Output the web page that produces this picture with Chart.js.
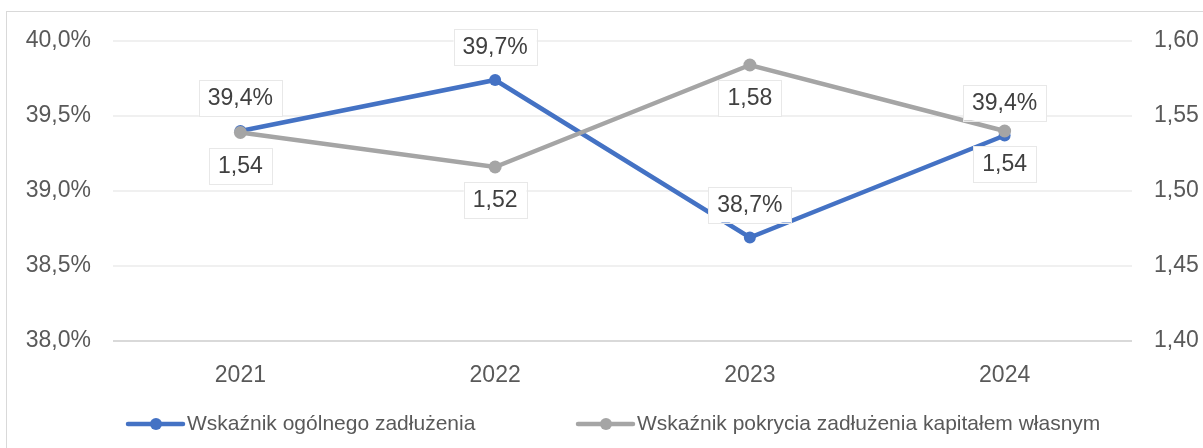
<!DOCTYPE html>
<html>
<head>
<meta charset="utf-8">
<script src="https://cdn.jsdelivr.net/npm/chart.js@4"></script>
<style>
  body { margin: 0; background: #fff; }
  #wrap { position: relative; width: 1203px; height: 448px; overflow: hidden; }
  #frame { position: absolute; left: 6px; top: 11px; width: 1210px; height: 460px; border: 1px solid #d9d9d9; box-sizing: border-box; }
  canvas { position: absolute; left: 0; top: 0; }
</style>
</head>
<body>
<div id="wrap">
  <div id="frame"></div>
  <canvas id="chart" width="1203" height="448"></canvas>
</div>
<script>
// data
const years = ['2021', '2022', '2023', '2024'];
const debtRatio = [39.40, 39.74, 38.69, 39.37];
const equityCover = [1.539, 1.516, 1.584, 1.540];
const seriesNames = ['Wskaźnik ogólnego zadłużenia', 'Wskaźnik pokrycia zadłużenia kapitałem własnym'];

const BLUE = '#4472C4';
const GREY = '#A5A5A5';
const FONT = '"Liberation Sans", Arial, sans-serif';
const FS = 23;

const pctFmt = v => v.toFixed(1).replace('.', ',') + '%';
const numFmt = v => v.toFixed(2).replace('.', ',');

// data labels in boxes: blue above, grey below
const labelsPlugin = {
    id: 'boxLabels',
    afterDatasetsDraw(chart) {
        const ctx = chart.ctx;
        ctx.save();
        ctx.font = FS + 'px ' + FONT;
        ctx.textAlign = 'center';
        ctx.textBaseline = 'middle';
        chart.data.datasets.forEach((ds, i) => {
            const meta = chart.getDatasetMeta(i);
            meta.data.forEach((pt, j) => {
                const txt = ds.fmt(ds.data[j]);
                const w = ctx.measureText(txt).width + 18;
                const h = 36;
                const top = ds.above ? pt.y - 15 - h : pt.y + 15;
                const left = pt.x - w / 2;
                ctx.fillStyle = '#fff';
                ctx.fillRect(left, top, w, h);
                ctx.strokeStyle = '#e8e8e8';
                ctx.lineWidth = 1;
                ctx.strokeRect(Math.round(left) + 0.5, Math.round(top) + 0.5, Math.round(w), h);
                ctx.fillStyle = '#404040';
                ctx.fillText(txt, pt.x, top + h / 2 + 1);
            });
        });
        ctx.restore();
    }
};

// legend at the bottom (line + dot marker)
const legendPlugin = {
    id: 'bottomLegend',
    afterDraw(chart) {
        const ctx = chart.ctx;
        const y = 424;
        const items = [
            { x: 128, color: BLUE, name: seriesNames[0] },
            { x: 578, color: GREY, name: seriesNames[1] }
        ];
        ctx.save();
        ctx.font = '21px ' + FONT;
        ctx.textBaseline = 'middle';
        items.forEach(it => {
            ctx.strokeStyle = it.color;
            ctx.lineWidth = 4.5;
            ctx.lineCap = 'round';
            ctx.beginPath();
            ctx.moveTo(it.x, y);
            ctx.lineTo(it.x + 55, y);
            ctx.stroke();
            ctx.fillStyle = it.color;
            ctx.beginPath();
            ctx.arc(it.x + 28, y, 6, 0, Math.PI * 2);
            ctx.fill();
            ctx.fillStyle = '#595959';
            ctx.fillText(it.name, it.x + 59, y);
        });
        ctx.restore();
    }
};

new Chart(document.getElementById('chart'), {
    type: 'line',
    data: {
        labels: years,
        datasets: [
            {
                label: seriesNames[0],
                data: debtRatio,
                yAxisID: 'y',
                borderColor: BLUE,
                backgroundColor: BLUE,
                borderWidth: 4.5,
                pointRadius: 6,
                pointBorderWidth: 0,
                tension: 0,
                order: 1,
                above: true,
                fmt: pctFmt
            },
            {
                label: seriesNames[1],
                data: equityCover,
                yAxisID: 'y1',
                borderColor: GREY,
                backgroundColor: GREY,
                borderWidth: 4.5,
                pointRadius: 6.5,
                pointBorderWidth: 0,
                tension: 0,
                order: 0,
                above: false,
                fmt: numFmt
            }
        ]
    },
    options: {
        responsive: false,
        animation: false,
        layout: { padding: { top: 41, left: 0, right: 0, bottom: 0 } },
        plugins: {
            legend: { display: false },
            tooltip: { enabled: false }
        },
        scales: {
            x: {
                offset: true,
                grid: { display: false },
                border: { display: false },
                ticks: { color: '#595959', font: { family: FONT, size: FS }, padding: 13 },
                afterFit(s) { s.height = 107; }
            },
            y: {
                position: 'left',
                min: 38, max: 40,
                ticks: {
                    stepSize: 0.5,
                    color: '#595959',
                    font: { family: FONT, size: FS },
                    padding: 22,
                    callback: v => pctFmt(v)
                },
                grid: {
                    drawTicks: false,
                    color: ctx => ctx.index === 0 ? '#d9d9d9' : '#f0f0f0',
                    lineWidth: 2
                },
                border: { display: false },
                afterFit(s) { s.width = 113; }
            },
            y1: {
                position: 'right',
                min: 1.4, max: 1.6,
                ticks: {
                    stepSize: 0.05,
                    color: '#595959',
                    font: { family: FONT, size: FS },
                    padding: 22,
                    callback: v => numFmt(v)
                },
                grid: { display: false, drawTicks: false },
                border: { display: false },
                afterFit(s) { s.width = 71; }
            }
        }
    },
    plugins: [labelsPlugin, legendPlugin]
});
</script>
</body>
</html>
